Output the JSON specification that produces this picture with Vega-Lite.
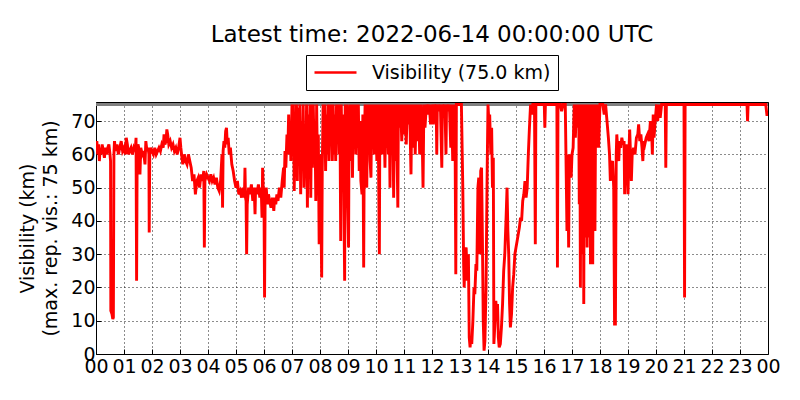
{
  "$schema": "https://vega.github.io/schema/vega-lite/v6.json",
  "width": 672,
  "height": 252,
  "autosize": "none",
  "padding": {"left": 96, "top": 102, "right": 32, "bottom": 46},
  "background": "white",
  "config": {
    "font": "DejaVu Sans",
    "view": {"stroke": "black", "strokeWidth": 1},
    "axis": {
      "labelFont": "DejaVu Sans",
      "labelFontSize": 19,
      "labelColor": "black",
      "titleFont": "DejaVu Sans",
      "titleFontSize": 19,
      "titleFontWeight": "normal",
      "titleColor": "black",
      "domain": false,
      "tickColor": "black",
      "tickSize": -5,
      "grid": true,
      "gridColor": "black",
      "gridDash": [1, 3],
      "gridWidth": 1,
      "gridOpacity": 0.9,
      "labelOverlap": false
    },
    "legend": {
      "labelFont": "DejaVu Sans",
      "labelFontSize": 19,
      "labelColor": "black"
    }
  },
  "title": {
    "text": "Latest time: 2022-06-14 00:00:00 UTC",
    "font": "DejaVu Sans",
    "fontSize": 23,
    "fontWeight": "normal",
    "color": "black",
    "anchor": "middle",
    "offset": 8
  },
  "data": {
    "values": [
      {"h": 0.00, "v": 62}, {"h": 0.03, "v": 64}, {"h": 0.06, "v": 60}, {"h": 0.09, "v": 63},
      {"h": 0.12, "v": 58}, {"h": 0.15, "v": 62}, {"h": 0.18, "v": 60}, {"h": 0.22, "v": 63},
      {"h": 0.26, "v": 61}, {"h": 0.30, "v": 59}, {"h": 0.34, "v": 62}, {"h": 0.38, "v": 60},
      {"h": 0.42, "v": 62}, {"h": 0.46, "v": 63}, {"h": 0.50, "v": 60}, {"h": 0.52, "v": 58},
      {"h": 0.53, "v": 13}, {"h": 0.57, "v": 12}, {"h": 0.60, "v": 10.5}, {"h": 0.62, "v": 11},
      {"h": 0.64, "v": 60}, {"h": 0.66, "v": 64}, {"h": 0.70, "v": 61}, {"h": 0.75, "v": 63},
      {"h": 0.80, "v": 60}, {"h": 0.85, "v": 62}, {"h": 0.90, "v": 64}, {"h": 0.95, "v": 61},
      {"h": 1.00, "v": 62}, {"h": 1.05, "v": 60}, {"h": 1.08, "v": 65}, {"h": 1.12, "v": 63},
      {"h": 1.16, "v": 60}, {"h": 1.20, "v": 61}, {"h": 1.25, "v": 62}, {"h": 1.30, "v": 60},
      {"h": 1.35, "v": 62}, {"h": 1.40, "v": 61}, {"h": 1.43, "v": 65}, {"h": 1.45, "v": 22},
      {"h": 1.47, "v": 60}, {"h": 1.50, "v": 63}, {"h": 1.55, "v": 61}, {"h": 1.57, "v": 54},
      {"h": 1.60, "v": 62}, {"h": 1.65, "v": 60}, {"h": 1.70, "v": 61}, {"h": 1.75, "v": 57},
      {"h": 1.78, "v": 64}, {"h": 1.82, "v": 61}, {"h": 1.86, "v": 62}, {"h": 1.89, "v": 60},
      {"h": 1.90, "v": 36.5}, {"h": 1.92, "v": 60}, {"h": 1.96, "v": 62}, {"h": 2.00, "v": 61},
      {"h": 2.05, "v": 60}, {"h": 2.10, "v": 62}, {"h": 2.15, "v": 60}, {"h": 2.20, "v": 61},
      {"h": 2.25, "v": 62}, {"h": 2.30, "v": 61}, {"h": 2.35, "v": 63}, {"h": 2.40, "v": 62},
      {"h": 2.43, "v": 66}, {"h": 2.46, "v": 63}, {"h": 2.50, "v": 64}, {"h": 2.53, "v": 67.5},
      {"h": 2.56, "v": 66}, {"h": 2.60, "v": 63}, {"h": 2.65, "v": 64}, {"h": 2.70, "v": 62},
      {"h": 2.75, "v": 63}, {"h": 2.80, "v": 61}, {"h": 2.85, "v": 62}, {"h": 2.90, "v": 60},
      {"h": 2.95, "v": 62}, {"h": 3.00, "v": 65}, {"h": 3.03, "v": 62}, {"h": 3.07, "v": 59},
      {"h": 3.10, "v": 57}, {"h": 3.15, "v": 60}, {"h": 3.20, "v": 58}, {"h": 3.25, "v": 57},
      {"h": 3.30, "v": 60}, {"h": 3.35, "v": 58}, {"h": 3.40, "v": 56}, {"h": 3.45, "v": 52},
      {"h": 3.50, "v": 54}, {"h": 3.55, "v": 48}, {"h": 3.60, "v": 52}, {"h": 3.65, "v": 53},
      {"h": 3.70, "v": 50}, {"h": 3.75, "v": 54}, {"h": 3.80, "v": 52}, {"h": 3.85, "v": 55},
      {"h": 3.87, "v": 32}, {"h": 3.89, "v": 52}, {"h": 3.95, "v": 54}, {"h": 4.00, "v": 53},
      {"h": 4.05, "v": 52}, {"h": 4.10, "v": 54}, {"h": 4.15, "v": 52}, {"h": 4.20, "v": 53},
      {"h": 4.25, "v": 51}, {"h": 4.30, "v": 53}, {"h": 4.35, "v": 50}, {"h": 4.40, "v": 49},
      {"h": 4.45, "v": 52}, {"h": 4.50, "v": 60}, {"h": 4.52, "v": 44}, {"h": 4.54, "v": 61},
      {"h": 4.57, "v": 64}, {"h": 4.60, "v": 62}, {"h": 4.63, "v": 67}, {"h": 4.66, "v": 68},
      {"h": 4.69, "v": 63}, {"h": 4.72, "v": 65}, {"h": 4.76, "v": 60}, {"h": 4.80, "v": 62},
      {"h": 4.85, "v": 57}, {"h": 4.90, "v": 55}, {"h": 4.95, "v": 52}, {"h": 5.00, "v": 50},
      {"h": 5.05, "v": 52}, {"h": 5.10, "v": 48}, {"h": 5.15, "v": 49}, {"h": 5.20, "v": 47},
      {"h": 5.25, "v": 50}, {"h": 5.30, "v": 47}, {"h": 5.32, "v": 56}, {"h": 5.34, "v": 47},
      {"h": 5.36, "v": 46}, {"h": 5.38, "v": 30}, {"h": 5.40, "v": 45}, {"h": 5.45, "v": 50},
      {"h": 5.50, "v": 48}, {"h": 5.55, "v": 51}, {"h": 5.60, "v": 46}, {"h": 5.65, "v": 50},
      {"h": 5.68, "v": 42}, {"h": 5.70, "v": 50}, {"h": 5.75, "v": 48}, {"h": 5.80, "v": 51},
      {"h": 5.85, "v": 47}, {"h": 5.90, "v": 50}, {"h": 5.93, "v": 41}, {"h": 5.95, "v": 56},
      {"h": 5.98, "v": 48}, {"h": 6.00, "v": 46}, {"h": 6.02, "v": 17}, {"h": 6.04, "v": 47},
      {"h": 6.08, "v": 50}, {"h": 6.12, "v": 45}, {"h": 6.16, "v": 48}, {"h": 6.20, "v": 46},
      {"h": 6.25, "v": 44}, {"h": 6.30, "v": 47}, {"h": 6.35, "v": 43}, {"h": 6.38, "v": 47},
      {"h": 6.42, "v": 45}, {"h": 6.46, "v": 48}, {"h": 6.50, "v": 46}, {"h": 6.55, "v": 50},
      {"h": 6.60, "v": 47}, {"h": 6.65, "v": 52}, {"h": 6.70, "v": 56}, {"h": 6.72, "v": 50},
      {"h": 6.75, "v": 61}, {"h": 6.78, "v": 56}, {"h": 6.82, "v": 66}, {"h": 6.85, "v": 60},
      {"h": 6.88, "v": 72}, {"h": 6.90, "v": 62}, {"h": 6.93, "v": 70}, {"h": 6.96, "v": 58},
      {"h": 7.00, "v": 75}, {"h": 7.03, "v": 60}, {"h": 7.05, "v": 75}, {"h": 7.08, "v": 49},
      {"h": 7.10, "v": 72}, {"h": 7.13, "v": 55}, {"h": 7.16, "v": 75}, {"h": 7.19, "v": 52},
      {"h": 7.22, "v": 74}, {"h": 7.25, "v": 57}, {"h": 7.28, "v": 75}, {"h": 7.31, "v": 48},
      {"h": 7.34, "v": 70}, {"h": 7.37, "v": 55}, {"h": 7.40, "v": 75}, {"h": 7.43, "v": 50},
      {"h": 7.46, "v": 62}, {"h": 7.49, "v": 54}, {"h": 7.52, "v": 75}, {"h": 7.55, "v": 44},
      {"h": 7.58, "v": 72}, {"h": 7.61, "v": 58}, {"h": 7.64, "v": 75}, {"h": 7.67, "v": 47},
      {"h": 7.70, "v": 75}, {"h": 7.73, "v": 56}, {"h": 7.76, "v": 75}, {"h": 7.79, "v": 60},
      {"h": 7.82, "v": 70}, {"h": 7.85, "v": 46}, {"h": 7.88, "v": 75}, {"h": 7.91, "v": 55},
      {"h": 7.94, "v": 66}, {"h": 7.97, "v": 33}, {"h": 8.00, "v": 60}, {"h": 8.03, "v": 45},
      {"h": 8.06, "v": 23}, {"h": 8.08, "v": 55}, {"h": 8.11, "v": 75}, {"h": 8.14, "v": 62},
      {"h": 8.17, "v": 75}, {"h": 8.20, "v": 55}, {"h": 8.23, "v": 72}, {"h": 8.26, "v": 60},
      {"h": 8.29, "v": 75}, {"h": 8.32, "v": 58}, {"h": 8.35, "v": 75}, {"h": 8.38, "v": 65},
      {"h": 8.41, "v": 75}, {"h": 8.44, "v": 58}, {"h": 8.47, "v": 75}, {"h": 8.50, "v": 60},
      {"h": 8.53, "v": 72}, {"h": 8.56, "v": 58}, {"h": 8.59, "v": 75}, {"h": 8.62, "v": 64},
      {"h": 8.65, "v": 75}, {"h": 8.68, "v": 60}, {"h": 8.71, "v": 75}, {"h": 8.74, "v": 34},
      {"h": 8.76, "v": 75}, {"h": 8.79, "v": 55}, {"h": 8.82, "v": 72}, {"h": 8.85, "v": 50},
      {"h": 8.88, "v": 22}, {"h": 8.90, "v": 75}, {"h": 8.93, "v": 60}, {"h": 8.96, "v": 75},
      {"h": 8.99, "v": 45}, {"h": 9.02, "v": 32}, {"h": 9.04, "v": 70}, {"h": 9.07, "v": 75},
      {"h": 9.10, "v": 58}, {"h": 9.13, "v": 75}, {"h": 9.16, "v": 53}, {"h": 9.19, "v": 75},
      {"h": 9.22, "v": 65}, {"h": 9.25, "v": 75}, {"h": 9.28, "v": 60}, {"h": 9.31, "v": 75},
      {"h": 9.34, "v": 62}, {"h": 9.37, "v": 75}, {"h": 9.40, "v": 55}, {"h": 9.43, "v": 70},
      {"h": 9.46, "v": 52}, {"h": 9.50, "v": 48}, {"h": 9.53, "v": 72}, {"h": 9.56, "v": 26},
      {"h": 9.58, "v": 60}, {"h": 9.61, "v": 75}, {"h": 9.64, "v": 55}, {"h": 9.67, "v": 50},
      {"h": 9.70, "v": 75}, {"h": 9.73, "v": 62}, {"h": 9.76, "v": 75}, {"h": 9.79, "v": 58},
      {"h": 9.82, "v": 53}, {"h": 9.85, "v": 75}, {"h": 9.88, "v": 65}, {"h": 9.91, "v": 75},
      {"h": 9.94, "v": 60}, {"h": 9.97, "v": 75}, {"h": 10.00, "v": 70}, {"h": 10.03, "v": 58},
      {"h": 10.06, "v": 75}, {"h": 10.09, "v": 58}, {"h": 10.12, "v": 30}, {"h": 10.14, "v": 75},
      {"h": 10.17, "v": 65}, {"h": 10.20, "v": 75}, {"h": 10.23, "v": 60}, {"h": 10.26, "v": 75},
      {"h": 10.29, "v": 70}, {"h": 10.32, "v": 56}, {"h": 10.35, "v": 75}, {"h": 10.38, "v": 62},
      {"h": 10.41, "v": 75}, {"h": 10.44, "v": 60}, {"h": 10.47, "v": 75}, {"h": 10.50, "v": 50},
      {"h": 10.53, "v": 75}, {"h": 10.56, "v": 64}, {"h": 10.60, "v": 75}, {"h": 10.63, "v": 47},
      {"h": 10.66, "v": 75}, {"h": 10.69, "v": 58}, {"h": 10.72, "v": 75}, {"h": 10.75, "v": 62},
      {"h": 10.78, "v": 44}, {"h": 10.80, "v": 75}, {"h": 10.84, "v": 68}, {"h": 10.88, "v": 75},
      {"h": 10.92, "v": 64}, {"h": 10.96, "v": 75}, {"h": 11.00, "v": 66}, {"h": 11.04, "v": 75},
      {"h": 11.08, "v": 63}, {"h": 11.12, "v": 75}, {"h": 11.16, "v": 69}, {"h": 11.20, "v": 75},
      {"h": 11.25, "v": 54}, {"h": 11.28, "v": 75}, {"h": 11.32, "v": 62}, {"h": 11.36, "v": 75},
      {"h": 11.40, "v": 60}, {"h": 11.44, "v": 75}, {"h": 11.48, "v": 64}, {"h": 11.52, "v": 75},
      {"h": 11.56, "v": 60}, {"h": 11.60, "v": 75}, {"h": 11.64, "v": 70}, {"h": 11.68, "v": 50},
      {"h": 11.71, "v": 75}, {"h": 11.75, "v": 68}, {"h": 11.80, "v": 75}, {"h": 11.85, "v": 72},
      {"h": 11.90, "v": 75}, {"h": 11.95, "v": 69}, {"h": 12.00, "v": 75}, {"h": 12.03, "v": 72},
      {"h": 12.05, "v": 69}, {"h": 12.08, "v": 75}, {"h": 12.12, "v": 72}, {"h": 12.15, "v": 75},
      {"h": 12.17, "v": 60}, {"h": 12.19, "v": 75}, {"h": 12.25, "v": 73}, {"h": 12.30, "v": 75},
      {"h": 12.35, "v": 56}, {"h": 12.37, "v": 75}, {"h": 12.42, "v": 71}, {"h": 12.46, "v": 75},
      {"h": 12.50, "v": 60}, {"h": 12.52, "v": 75}, {"h": 12.58, "v": 73}, {"h": 12.62, "v": 75},
      {"h": 12.67, "v": 62}, {"h": 12.70, "v": 75}, {"h": 12.74, "v": 58}, {"h": 12.77, "v": 75},
      {"h": 12.82, "v": 72}, {"h": 12.85, "v": 24}, {"h": 12.87, "v": 75}, {"h": 12.95, "v": 75},
      {"h": 13.05, "v": 75}, {"h": 13.10, "v": 50}, {"h": 13.13, "v": 27}, {"h": 13.15, "v": 20},
      {"h": 13.18, "v": 31}, {"h": 13.22, "v": 32}, {"h": 13.26, "v": 22}, {"h": 13.30, "v": 30},
      {"h": 13.33, "v": 5}, {"h": 13.36, "v": 2}, {"h": 13.39, "v": 5}, {"h": 13.42, "v": 3},
      {"h": 13.46, "v": 10}, {"h": 13.50, "v": 20}, {"h": 13.53, "v": 18}, {"h": 13.57, "v": 27},
      {"h": 13.60, "v": 25}, {"h": 13.64, "v": 50}, {"h": 13.67, "v": 53}, {"h": 13.70, "v": 30},
      {"h": 13.74, "v": 55}, {"h": 13.77, "v": 56}, {"h": 13.80, "v": 35}, {"h": 13.83, "v": 10},
      {"h": 13.86, "v": 1}, {"h": 13.89, "v": 4}, {"h": 13.93, "v": 20}, {"h": 13.97, "v": 55},
      {"h": 14.00, "v": 75}, {"h": 14.03, "v": 70}, {"h": 14.06, "v": 72}, {"h": 14.10, "v": 60},
      {"h": 14.13, "v": 68}, {"h": 14.16, "v": 50}, {"h": 14.19, "v": 59}, {"h": 14.21, "v": 3},
      {"h": 14.24, "v": 8}, {"h": 14.28, "v": 16}, {"h": 14.31, "v": 12}, {"h": 14.34, "v": 15},
      {"h": 14.37, "v": 5}, {"h": 14.40, "v": 2}, {"h": 14.44, "v": 3}, {"h": 14.48, "v": 8},
      {"h": 14.52, "v": 15}, {"h": 14.56, "v": 25}, {"h": 14.60, "v": 30}, {"h": 14.65, "v": 42},
      {"h": 14.68, "v": 50}, {"h": 14.71, "v": 37}, {"h": 14.74, "v": 30}, {"h": 14.77, "v": 15},
      {"h": 14.80, "v": 8}, {"h": 14.84, "v": 12}, {"h": 14.88, "v": 20}, {"h": 14.92, "v": 24},
      {"h": 14.96, "v": 30}, {"h": 15.00, "v": 32}, {"h": 15.04, "v": 34}, {"h": 15.08, "v": 36},
      {"h": 15.12, "v": 38}, {"h": 15.16, "v": 41}, {"h": 15.20, "v": 40}, {"h": 15.24, "v": 46},
      {"h": 15.28, "v": 48}, {"h": 15.32, "v": 52}, {"h": 15.36, "v": 47}, {"h": 15.40, "v": 50},
      {"h": 15.44, "v": 60}, {"h": 15.48, "v": 68}, {"h": 15.52, "v": 75}, {"h": 15.56, "v": 72},
      {"h": 15.60, "v": 75}, {"h": 15.66, "v": 75}, {"h": 15.69, "v": 33}, {"h": 15.71, "v": 75},
      {"h": 15.85, "v": 75}, {"h": 16.01, "v": 75}, {"h": 16.03, "v": 68}, {"h": 16.05, "v": 75},
      {"h": 16.20, "v": 75}, {"h": 16.46, "v": 75}, {"h": 16.48, "v": 26}, {"h": 16.50, "v": 75},
      {"h": 16.58, "v": 75}, {"h": 16.63, "v": 73}, {"h": 16.68, "v": 75}, {"h": 16.76, "v": 75},
      {"h": 16.80, "v": 50}, {"h": 16.82, "v": 37}, {"h": 16.85, "v": 60}, {"h": 16.88, "v": 32},
      {"h": 16.90, "v": 55}, {"h": 16.93, "v": 60}, {"h": 16.97, "v": 53}, {"h": 17.00, "v": 60},
      {"h": 17.04, "v": 62}, {"h": 17.08, "v": 75}, {"h": 17.12, "v": 65}, {"h": 17.16, "v": 75},
      {"h": 17.20, "v": 68}, {"h": 17.24, "v": 75}, {"h": 17.26, "v": 45}, {"h": 17.28, "v": 75},
      {"h": 17.30, "v": 20}, {"h": 17.32, "v": 75}, {"h": 17.34, "v": 40}, {"h": 17.36, "v": 75},
      {"h": 17.38, "v": 30}, {"h": 17.40, "v": 75}, {"h": 17.42, "v": 15}, {"h": 17.44, "v": 75},
      {"h": 17.46, "v": 35}, {"h": 17.48, "v": 75}, {"h": 17.50, "v": 40}, {"h": 17.52, "v": 72},
      {"h": 17.54, "v": 32}, {"h": 17.56, "v": 75}, {"h": 17.58, "v": 45}, {"h": 17.60, "v": 75},
      {"h": 17.62, "v": 35}, {"h": 17.64, "v": 75}, {"h": 17.66, "v": 27}, {"h": 17.68, "v": 72},
      {"h": 17.70, "v": 38}, {"h": 17.72, "v": 75}, {"h": 17.74, "v": 27}, {"h": 17.76, "v": 70},
      {"h": 17.78, "v": 40}, {"h": 17.80, "v": 75}, {"h": 17.82, "v": 37}, {"h": 17.84, "v": 68},
      {"h": 17.87, "v": 62}, {"h": 17.90, "v": 75}, {"h": 17.95, "v": 62}, {"h": 18.00, "v": 75},
      {"h": 18.10, "v": 75}, {"h": 18.15, "v": 72}, {"h": 18.20, "v": 75}, {"h": 18.25, "v": 70},
      {"h": 18.30, "v": 65}, {"h": 18.34, "v": 60}, {"h": 18.37, "v": 52}, {"h": 18.41, "v": 57},
      {"h": 18.45, "v": 58}, {"h": 18.49, "v": 50}, {"h": 18.52, "v": 9}, {"h": 18.55, "v": 9},
      {"h": 18.58, "v": 60}, {"h": 18.60, "v": 66}, {"h": 18.63, "v": 62}, {"h": 18.67, "v": 58},
      {"h": 18.70, "v": 64}, {"h": 18.74, "v": 62}, {"h": 18.78, "v": 65}, {"h": 18.82, "v": 63},
      {"h": 18.86, "v": 64}, {"h": 18.88, "v": 48}, {"h": 18.92, "v": 62}, {"h": 18.96, "v": 63},
      {"h": 19.00, "v": 48}, {"h": 19.03, "v": 60}, {"h": 19.06, "v": 67.5}, {"h": 19.09, "v": 60},
      {"h": 19.12, "v": 52}, {"h": 19.15, "v": 60}, {"h": 19.20, "v": 62}, {"h": 19.25, "v": 60},
      {"h": 19.30, "v": 65}, {"h": 19.35, "v": 66}, {"h": 19.38, "v": 69}, {"h": 19.42, "v": 64},
      {"h": 19.46, "v": 66}, {"h": 19.50, "v": 62}, {"h": 19.53, "v": 58}, {"h": 19.56, "v": 64},
      {"h": 19.60, "v": 63}, {"h": 19.65, "v": 65}, {"h": 19.70, "v": 66}, {"h": 19.75, "v": 64},
      {"h": 19.80, "v": 70}, {"h": 19.84, "v": 68}, {"h": 19.87, "v": 60}, {"h": 19.90, "v": 72},
      {"h": 19.93, "v": 65}, {"h": 19.97, "v": 70}, {"h": 20.02, "v": 75}, {"h": 20.06, "v": 70},
      {"h": 20.10, "v": 75}, {"h": 20.15, "v": 71}, {"h": 20.20, "v": 75}, {"h": 20.33, "v": 75},
      {"h": 20.35, "v": 56}, {"h": 20.37, "v": 75}, {"h": 20.70, "v": 75}, {"h": 21.00, "v": 75},
      {"h": 21.02, "v": 17}, {"h": 21.04, "v": 75}, {"h": 22.00, "v": 75}, {"h": 23.25, "v": 75},
      {"h": 23.27, "v": 70}, {"h": 23.29, "v": 75}, {"h": 23.92, "v": 75}, {"h": 23.96, "v": 72},
      {"h": 24.00, "v": 72}
    ]
  },
  "encoding": {
    "x": {
      "field": "h",
      "type": "quantitative",
      "scale": {"domain": [0, 24], "nice": false},
      "axis": {
        "title": null,
        "values": [0, 1, 2, 3, 4, 5, 6, 7, 8, 9, 10, 11, 12, 13, 14, 15, 16, 17, 18, 19, 20, 21, 22, 23, 24],
        "labelExpr": "(datum.value % 24) < 10 ? '0' + (datum.value % 24) : '' + (datum.value % 24)",
        "labelPadding": 8,
        "labelFlush": false,
        "labelOverlap": false
      }
    },
    "y": {
      "field": "v",
      "type": "quantitative",
      "scale": {"domain": [0, 75.75], "nice": false, "zero": true},
      "axis": {
        "title": ["Visibility (km)", "(max. rep. vis.: 75 km)"],
        "titleLineHeight": 23,
        "titlePadding": 10,
        "values": [0, 10, 20, 30, 40, 50, 60, 70],
        "labelPadding": 6,
        "labelFlush": false,
        "labelOverlap": false
      }
    }
  },
  "layer": [
    {
      "mark": {"type": "rule", "color": "#808080", "strokeWidth": 3},
      "encoding": {"x": {"value": 0}, "x2": {"value": 672}, "y": {"datum": 75}}
    },
    {
      "mark": {"type": "line", "strokeWidth": 2.9, "clip": true},
      "encoding": {
        "color": {
          "datum": "Visibility (75.0 km)",
          "type": "nominal",
          "scale": {"range": ["#ff0000"]},
          "legend": {
            "title": null,
            "orient": "none",
            "legendX": 210,
            "legendY": -47,
            "padding": 7,
            "strokeColor": "black",
            "fillColor": "white",
            "cornerRadius": 0,
            "symbolType": "stroke",
            "symbolSize": 1764,
            "symbolStrokeWidth": 2.6,
            "clipHeight": 21,
            "labelLimit": 400,
            "labelOffset": 14
          }
        }
      }
    }
  ]
}
